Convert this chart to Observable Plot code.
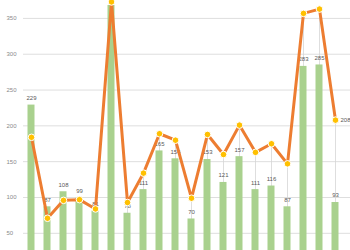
<!DOCTYPE html>
<html>
<head>
<meta charset="utf-8">
<script src="https://cdn.jsdelivr.net/npm/d3@7"></script>
<script src="https://cdn.jsdelivr.net/npm/@observablehq/plot@0.6"></script>
<style>
  html, body { margin: 0; padding: 0; background: #fff; }
  #chart svg { display: block; background: linear-gradient(#f1f1f1, #ffffff 45%); }
</style>
</head>
<body>
<div id="chart"></div>
<script>
const categories = d3.range(1, 21).map(String);
const barValues = [229, 87, 108, 99, 81, 368, 78, 111, 165, 154, 70, 153, 121, 157, 111, 116, 87, 283, 285, 93];
const lineValues = [184, 71, 96, 97, 84, 373, 93, 134, 189, 180, 99, 188, 160, 201, 163, 175, 147, 357, 363, 208];
const yTicks = [50, 100, 150, 200, 250, 300, 350];

const data = categories.map((c, i) => ({cat: c, bar: barValues[i], line: lineValues[i]}));
const lastPoint = [data[data.length - 1]];
// the tallest bar's label sits above the visible frame in the reference
const labelled = data.filter(d => d.bar < 360);

const chart = Plot.plot({
  width: 350,
  height: 250,
  marginLeft: 23,
  marginRight: 0,
  marginTop: 0,
  marginBottom: 0,
  style: {fontFamily: "'Liberation Sans', Arial, sans-serif", fontSize: "6px", background: "transparent"},
  x: {type: "band", domain: categories, range: [23, 343], padding: 0, axis: null},
  y: {domain: [26, 375]},
  marks: [
    Plot.gridY(yTicks, {stroke: "#dedede", strokeOpacity: 1, strokeWidth: 1}),
    Plot.axisY(yTicks, {tickSize: 0, tickPadding: 0, textAnchor: "start", dx: -17, fill: "#8a8a8a", label: null}),
    Plot.ruleX(data, {x: "cat", y1: 0, y2: "line", stroke: "#d6d6d6", strokeWidth: 0.8, clip: true}),
    Plot.barY(data, {x: "cat", y1: 0, y2: "bar", fill: "#a9d18e", insetLeft: 4.5, insetRight: 4.5, clip: true}),
    Plot.text(labelled, {x: "cat", y: "bar", text: d => String(d.bar), dy: -7, fill: "#595959"}),
    Plot.line(data, {x: "cat", y: "line", stroke: "#ed7d31", strokeWidth: 3, strokeLinejoin: "round"}),
    Plot.dot(data, {x: "cat", y: "line", r: 3.3, fill: "#ffc000", stroke: "#ffffff", strokeWidth: 1}),
    Plot.text(lastPoint, {x: "cat", y: "line", text: d => String(d.line), dx: 5, textAnchor: "start", fill: "#595959"})
  ]
});
document.getElementById("chart").appendChild(chart);
</script>
</body>
</html>
